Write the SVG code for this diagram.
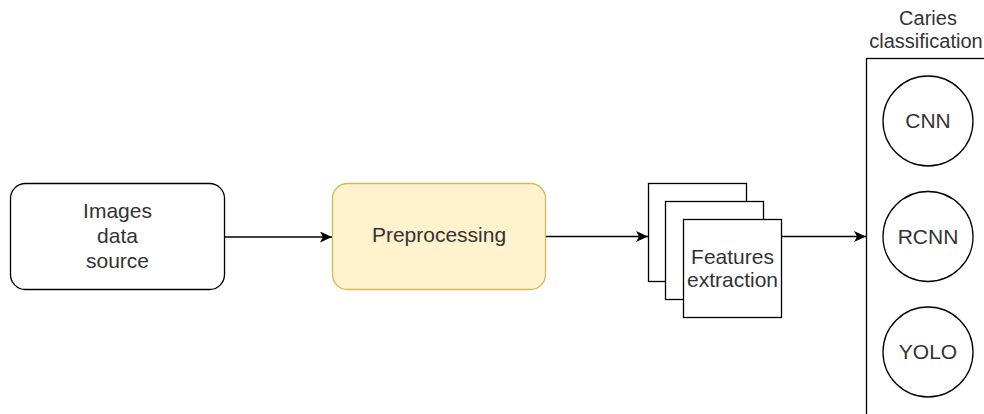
<svg xmlns="http://www.w3.org/2000/svg" width="984" height="414" viewBox="0 0 984 414">
  <style>
    .box { fill: #ffffff; stroke: #000000; stroke-width: 1.3; }
    .prep { fill: #fff2cc; stroke: #d6b656; stroke-width: 1.3; }
    .lbl { font-family: "Liberation Sans", Arial, Helvetica, sans-serif; font-size: 21px; fill: #333333; text-anchor: middle; }
    .title { font-size: 20px; }
    .edge { fill: none; stroke: #000000; stroke-width: 1.3; }
  </style>
  <defs>
    <marker id="arrow" markerUnits="userSpaceOnUse" markerWidth="14" markerHeight="12" refX="12" refY="5.5" orient="auto">
      <path d="M0,0 L12,5.5 L0,11 L3,5.5 Z" fill="#000000"/>
    </marker>
  </defs>

  <!-- connectors -->
  <g id="connectors">
    <line class="edge" x1="225" y1="237" x2="332" y2="237" marker-end="url(#arrow)"/>
    <line class="edge" x1="546" y1="236.5" x2="648" y2="236.5" marker-end="url(#arrow)"/>
    <line class="edge" x1="782" y1="236.5" x2="866" y2="236.5" marker-end="url(#arrow)"/>
  </g>

  <!-- source node -->
  <g id="images-data-source">
    <rect class="box" x="10.5" y="183.5" width="214" height="106" rx="15" ry="15"/>
    <text class="lbl" x="117.5" y="218">Images</text>
    <text class="lbl" x="117.5" y="243">data</text>
    <text class="lbl" x="117.5" y="268">source</text>
  </g>

  <!-- preprocessing step -->
  <g id="preprocessing">
    <rect class="prep" x="332.5" y="183.5" width="213" height="106" rx="15" ry="15"/>
    <text class="lbl" x="439" y="242">Preprocessing</text>
  </g>

  <!-- stacked feature extraction pages -->
  <g id="features-extraction">
    <rect class="box" x="648.5" y="183.5" width="98" height="98"/>
    <rect class="box" x="665.5" y="201.5" width="98" height="98"/>
    <rect class="box" x="683.5" y="219.5" width="98" height="98"/>
    <text class="lbl" x="732.5" y="264">Features</text>
    <text class="lbl" x="732.5" y="287">extraction</text>
  </g>

  <!-- classification container -->
  <g id="caries-classification">
    <rect class="box" x="866.5" y="58.5" width="124" height="370"/>
    <text class="lbl title" x="928" y="25">Caries</text>
    <text class="lbl title" x="926" y="48">classification</text>
  </g>

  <g id="cnn">
    <circle class="box" cx="928" cy="121" r="45"/>
    <text class="lbl" x="928" y="128">CNN</text>
  </g>

  <g id="rcnn">
    <circle class="box" cx="928" cy="236.5" r="45"/>
    <text class="lbl" x="928" y="243.5">RCNN</text>
  </g>

  <g id="yolo">
    <circle class="box" cx="928" cy="352" r="45"/>
    <text class="lbl" x="928" y="359">YOLO</text>
  </g>
</svg>
